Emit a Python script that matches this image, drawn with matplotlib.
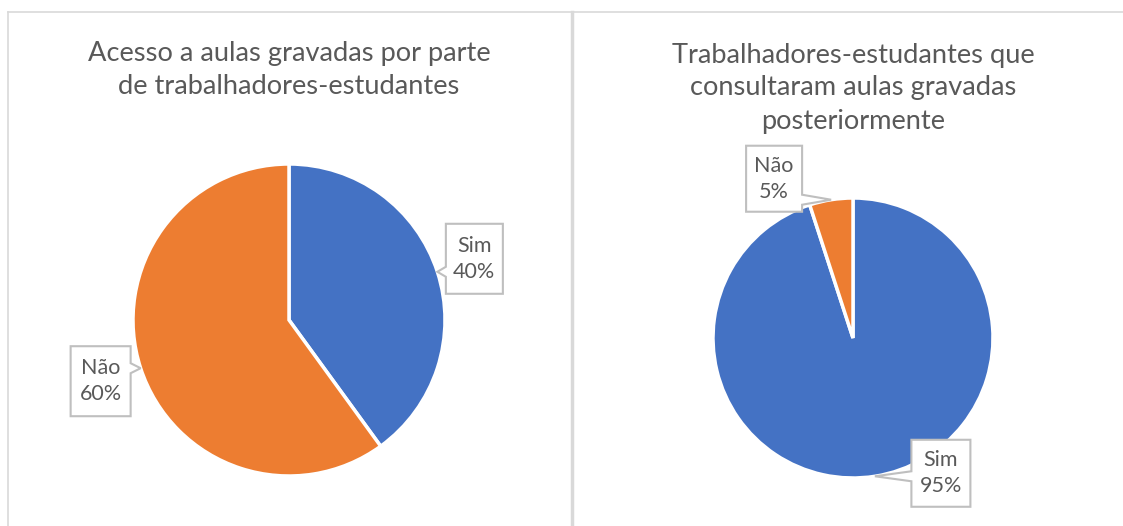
import numpy as np
import matplotlib.pyplot as plt
from matplotlib.patches import Polygon

# chart data
titles = ['Acesso a aulas gravadas por parte\nde trabalhadores-estudantes',
          'Trabalhadores-estudantes que\nconsultaram aulas gravadas\nposteriormente']
labels = [['Sim', 'Não'], ['Sim', 'Não']]
values = [[40, 60], [95, 5]]
colors = ['#4472C4', '#ED7D31']

W, H = 1123, 526
TXT = '#595959'
GRID = '#d9d9d9'
plt.rcParams['font.family'] = ['Lato', 'DejaVu Sans']

fig = plt.figure(figsize=(W / 100, H / 100), dpi=100)
fig.patch.set_facecolor('white')

# pie axes: (center x, center y from top, radius) in pixels
pie_boxes = [(289, 320, 156), (853, 338, 140)]
title_pos = [(289, 70), (853, 88)]
# callout box offsets from the tip (px, y up) and box sizes
offsets = [[(37, 13), (-40, -13)], [(66, 3), (-57, 21)]]
box_sizes = [[(57, 70), (60, 70)], [(59, 67), (56, 66)]]

ov = fig.add_axes([0, 0, 1, 1], zorder=5)
ov.set_xlim(0, W)
ov.set_ylim(0, H)
ov.axis('off')
ov.patch.set_visible(False)

# panel borders
ov.plot([8, W], [H - 12, H - 12], color=GRID, lw=1.2)
ov.plot([8, 8], [0, H - 12], color=GRID, lw=1.2)
ov.plot([571.5, 571.5], [0, H - 12], color=GRID, lw=2.5)

for k in range(2):
    cx, cy, r = pie_boxes[k]
    ax = fig.add_axes([(cx - r) / W, (H - cy - r) / H, 2 * r / W, 2 * r / H])
    wedges, _ = ax.pie(values[k], colors=colors, startangle=90, counterclock=False,
                       wedgeprops=dict(edgecolor='white', linewidth=2.5))
    ax.set_xlim(-1, 1)
    ax.set_ylim(-1, 1)
    ax.axis('off')

    tx, ty = title_pos[k]
    ov.text(tx, H - ty, titles[k], ha='center', va='center', fontsize=19.6,
            color=TXT, linespacing=1.4)

    total = sum(values[k])
    for i, w in enumerate(wedges):
        mid = np.deg2rad((w.theta1 + w.theta2) / 2)
        px, py = ax.transData.transform((np.cos(mid), np.sin(mid)))
        dx, dy = offsets[k][i]
        bx, by = px + dx, py + dy
        bw, bh = box_sizes[k][i]
        x0, x1, y0, y1 = bx - bw / 2, bx + bw / 2, by - bh / 2, by + bh / 2
        rel = py - by
        near = abs(rel) > bh / 2 - 12
        b = np.clip(rel, -bh / 2 + 1, bh / 2 - 1)
        if near:
            base = sorted([b, b - np.sign(rel) * 18])
        else:
            base = [b - 5, b + 5]
        if px > x1:  # pointer on right edge
            pts = [(x0, y0), (x1, y0), (x1, by + base[0]), (px, py),
                   (x1, by + base[1]), (x1, y1), (x0, y1)]
        else:  # pointer on left edge
            pts = [(x0, y0), (x1, y0), (x1, y1), (x0, y1),
                   (x0, by + base[1]), (px, py), (x0, by + base[0])]
        ov.add_patch(Polygon(pts, closed=True, facecolor='white', edgecolor='#bfbfbf',
                             lw=1.5, joinstyle='miter'))
        pct = f'{round(values[k][i] / total * 100)}%'
        ov.text(bx, by, f'{labels[k][i]}\n{pct}', ha='center', va='center',
                fontsize=15.5, color=TXT, linespacing=1.35)

fig.savefig('out.png', dpi=100)
